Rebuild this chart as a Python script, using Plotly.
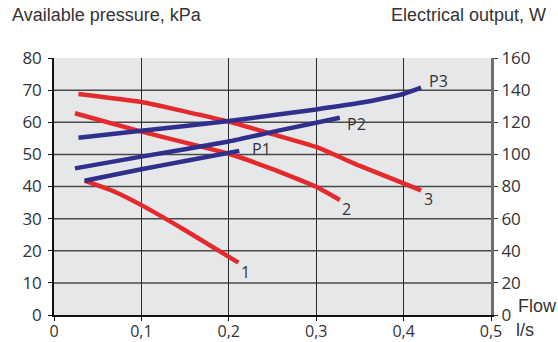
import plotly.graph_objects as go

# Pump curves: available pressure (kPa) and electrical output (W) versus flow (l/s)
flow_1 = [0.035, 0.07, 0.10, 0.15, 0.211]
pressure_1 = [41.8, 38.3, 34.2, 26.4, 16.3]

flow_2 = [0.024, 0.10, 0.20, 0.25, 0.30, 0.327]
pressure_2 = [62.8, 57.1, 50.2, 45.4, 39.9, 35.8]

flow_3 = [0.028, 0.10, 0.20, 0.25, 0.30, 0.35, 0.42]
pressure_3 = [68.8, 66.3, 60.2, 56.3, 52.3, 46.4, 38.8]

flow_p1 = [0.035, 0.10, 0.15, 0.212]
power_p1 = [83.6, 90.7, 95.9, 102.2]

flow_p2 = [0.024, 0.10, 0.20, 0.25, 0.327]
power_p2 = [91.3, 98.6, 108.0, 114.0, 122.8]

flow_p3 = [0.028, 0.10, 0.20, 0.30, 0.354, 0.40, 0.42]
power_p3 = [110.4, 114.7, 120.8, 128.0, 132.4, 137.6, 141.5]

x_ticks = [0, 0.1, 0.2, 0.3, 0.4, 0.5]
x_tick_text = ["0", "0,1", "0,2", "0,3", "0,4", "0,5"]
pressure_ticks = [0, 10, 20, 30, 40, 50, 60, 70, 80]
power_ticks = [0, 20, 40, 60, 80, 100, 120, 140, 160]
pressure_grid = [10, 20, 30, 40, 50, 60, 70]

RED = "#e52a2d"
BLUE = "#302f8c"
TEXT = "#333333"
LABEL_FONT = "Open Sans, Noto Sans, sans-serif"
TITLE_FONT = "Liberation Sans, Arial, sans-serif"

fig = go.Figure()

# (name, x, y, color, axis, label offsets in px)
series = [
    ("1", flow_1, pressure_1, RED, "y", 7, -9),
    ("2", flow_2, pressure_2, RED, "y", 7, -9),
    ("3", flow_3, pressure_3, RED, "y", 7, -9),
    ("P1", flow_p1, power_p1, BLUE, "y2", 22, 2),
    ("P2", flow_p2, power_p2, BLUE, "y2", 17, -6),
    ("P3", flow_p3, power_p3, BLUE, "y2", 17, 7),
]

annotations = []
for name, xs, ys, color, axis, dx, dy in series:
    fig.add_trace(go.Scatter(
        x=xs, y=ys, yaxis=axis, mode="lines", name=name,
        line=dict(color=color, width=4.5, shape="spline", smoothing=0.4),
        showlegend=False, hoverinfo="skip",
    ))
    annotations.append(dict(
        x=xs[-1], y=ys[-1], xref="x", yref=axis, text=name,
        showarrow=False, xshift=dx, yshift=dy,
        xanchor="center", yanchor="middle",
        font=dict(family=LABEL_FONT, size=16, color=TEXT),
    ))

# Axis titles and unit labels
annotations += [
    dict(x=-0.101, y=1.167, xref="paper", yref="paper", text="Available pressure, kPa",
         showarrow=False, xanchor="left", yanchor="middle",
         font=dict(family=TITLE_FONT, size=18, color=TEXT)),
    dict(x=1.131, y=1.167, xref="paper", yref="paper", text="Electrical output, W",
         showarrow=False, xanchor="right", yanchor="middle",
         font=dict(family=TITLE_FONT, size=18, color=TEXT)),
    dict(x=1.057, y=0.035, xref="paper", yref="paper", text="Flow",
         showarrow=False, xanchor="left", yanchor="middle",
         font=dict(family=TITLE_FONT, size=18, color=TEXT)),
    dict(x=1.053, y=-0.058, xref="paper", yref="paper", text="l/s",
         showarrow=False, xanchor="left", yanchor="middle",
         font=dict(family=TITLE_FONT, size=18, color=TEXT)),
]

# Horizontal grid lines between the axis limits
shapes = [
    dict(type="line", xref="paper", yref="y", x0=0, x1=1, y0=v, y1=v,
         line=dict(color="#4a4a4a", width=1.5), layer="below")
    for v in pressure_grid
]

tick_font = dict(family=LABEL_FONT, size=17, color=TEXT)

fig.update_layout(
    width=558, height=342,
    margin=dict(l=54, r=67, t=58, b=27),
    paper_bgcolor="white",
    plot_bgcolor="#e6e7e9",
    annotations=annotations,
    shapes=shapes,
    xaxis=dict(
        range=[0, 0.5], tickvals=x_ticks, ticktext=x_tick_text,
        showgrid=True, gridcolor="#2a2a2a", gridwidth=1.2,
        zeroline=False, showline=True, linecolor="#111111", linewidth=2,
        ticks="outside", ticklen=4, tickcolor="#111111",
        tickfont=dict(family=LABEL_FONT, size=16, color=TEXT),
        ticklabelstandoff=-3, automargin=False, fixedrange=True,
    ),
    yaxis=dict(
        range=[0, 80], tickvals=pressure_ticks,
        showgrid=False, zeroline=False,
        showline=True, linecolor="#111111", linewidth=1.5,
        ticks="outside", ticklen=4, tickcolor="#111111",
        tickfont=tick_font, ticklabelstandoff=3, automargin=False,
    ),
    yaxis2=dict(
        range=[0, 160], tickvals=power_ticks, overlaying="y", side="right",
        showgrid=False, zeroline=False,
        showline=True, linecolor="#6e6e6e", linewidth=3,
        ticks="outside", ticklen=4, tickcolor="#333333",
        tickfont=tick_font, automargin=False,
    ),
)

fig.write_html("out.html")
